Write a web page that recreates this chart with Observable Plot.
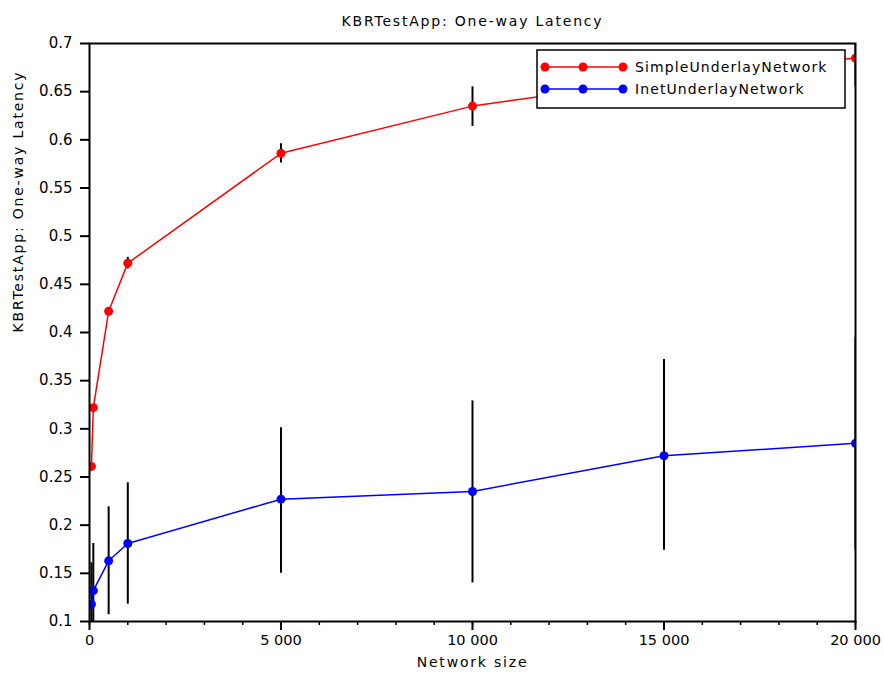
<!DOCTYPE html>
<html>
<head>
<meta charset="utf-8">
<script src="https://cdn.jsdelivr.net/npm/d3@7"></script>
<script src="https://cdn.jsdelivr.net/npm/@observablehq/plot@0.6"></script>
<style>
  body { margin: 0; background: #fff; }
  #wrap { position: relative; width: 884px; height: 680px; }
  #legend { position: absolute; left: 536px; top: 49px; }
</style>
</head>
<body>
<div id="wrap"></div>
<script>
// ---- data ----
const networkSizes = [50, 100, 500, 1000, 5000, 10000, 15000, 20000];

const simpleMean = [0.261, 0.322, 0.422, 0.472, 0.586, 0.635, 0.663, 0.685];
const simpleLow  = [0.258, 0.319, 0.419, 0.466, 0.576, 0.614, 0.640, 0.655];
const simpleHigh = [0.264, 0.325, 0.425, 0.478, 0.596, 0.655, 0.686, 0.715];

const inetMean = [0.118, 0.132, 0.163, 0.181, 0.227, 0.235, 0.272, 0.285];
const inetLow  = [0.075, 0.083, 0.107, 0.118, 0.150, 0.140, 0.174, 0.174];
const inetHigh = [0.161, 0.181, 0.219, 0.244, 0.301, 0.329, 0.372, 0.395];

const seriesNames = ["SimpleUnderlayNetwork", "InetUnderlayNetwork"];
const seriesColors = ["#ff0000", "#0000ff"];

const xMajorTicks = [0, 5000, 10000, 15000, 20000];
const xMinorTicks = [0, 1000, 2000, 3000, 4000, 5000, 6000, 7000, 8000, 9000, 10000,
                     11000, 12000, 13000, 14000, 15000, 16000, 17000, 18000, 19000, 20000];
const yTicks = [0.1, 0.15, 0.2, 0.25, 0.3, 0.35, 0.4, 0.45, 0.5, 0.55, 0.6, 0.65, 0.7];

const titleText = "KBRTestApp: One-way Latency";
const xLabel = "Network size";
const yLabel = "KBRTestApp: One-way Latency";

// ---- table ----
const rows = [];
networkSizes.forEach((s, i) => rows.push({series: seriesNames[0], size: s, mean: simpleMean[i], low: simpleLow[i], high: simpleHigh[i]}));
networkSizes.forEach((s, i) => rows.push({series: seriesNames[1], size: s, mean: inetMean[i], low: inetLow[i], high: inetHigh[i]}));

const font = "'DejaVu Sans', sans-serif";

const chart = Plot.plot({
  width: 884,
  height: 680,
  marginLeft: 89,
  marginRight: 29,
  marginTop: 43,
  marginBottom: 59,
  style: {fontFamily: font, fontSize: "14px", background: "white", color: "black"},
  x: {domain: [0, 20000]},
  y: {domain: [0.1, 0.7]},
  color: {domain: seriesNames, range: seriesColors},
  marks: [
    Plot.ruleX(rows, {x: "size", y1: "low", y2: "high", stroke: "black", strokeWidth: 2, clip: true}),
    Plot.line(rows, {x: "size", y: "mean", z: "series", stroke: "series", strokeWidth: 1.5, clip: true}),
    Plot.dot(rows, {x: "size", y: "mean", fill: "series", r: 4.5, clip: true}),
    Plot.frame({stroke: "black", strokeWidth: 2}),
    Plot.axisY({ticks: yTicks, tickSize: 9, tickPadding: 8, strokeWidth: 2,
                tickFormat: d => String(+d.toFixed(2)), label: null, fontSize: 15}),
    Plot.axisX({ticks: xMinorTicks, tickSize: 4, strokeWidth: 1.5, tickFormat: () => "", label: null}),
    Plot.axisX({ticks: xMajorTicks, tickSize: 9, tickPadding: 4, strokeWidth: 2,
                tickFormat: d => d3.format(",")(d).replace(/,/g, " "), label: null, fontSize: 14.5}),
    Plot.text([titleText], {frameAnchor: "top", dy: -27, fontSize: 14, fill: "black"}),
    Plot.text([xLabel], {frameAnchor: "bottom", dy: 45, fontSize: 14, fill: "black"}),
    Plot.text([yLabel], {frameAnchor: "left", dx: -71, rotate: -90, fontSize: 14, fill: "black"})
  ]
});

// widen label text slightly to match the reference face
d3.select(chart).selectAll('g[aria-label="text"] text').style("letter-spacing", "1.8px");

const wrap = document.getElementById("wrap");
wrap.appendChild(chart);

// ---- legend ----
const leg = d3.select(wrap).append("svg")
  .attr("id", "legend").attr("width", 312).attr("height", 62)
  .style("font-family", font).style("font-size", "14px");
leg.append("rect").attr("x", 1).attr("y", 1).attr("width", 308).attr("height", 58)
  .attr("fill", "white").attr("stroke", "black").attr("stroke-width", 1.5);
seriesNames.forEach((name, i) => {
  const y = 18 + i * 22;
  const g = leg.append("g");
  g.append("line").attr("x1", 9).attr("x2", 87).attr("y1", y).attr("y2", y)
    .attr("stroke", seriesColors[i]).attr("stroke-width", 1.5);
  [9, 47, 87].forEach(cx => g.append("circle").attr("cx", cx).attr("cy", y).attr("r", 4.5).attr("fill", seriesColors[i]));
  g.append("text").attr("x", 99).attr("y", y).attr("dy", "0.35em")
    .style("letter-spacing", "1.1px").text(name);
});
</script>
</body>
</html>
